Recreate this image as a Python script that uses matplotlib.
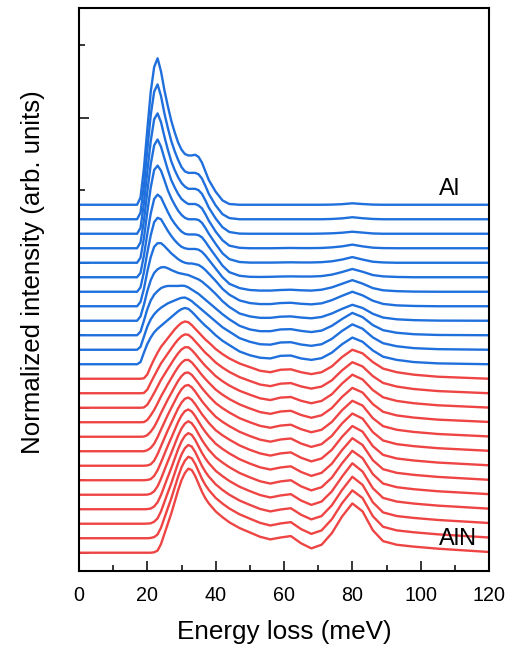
import numpy as np
import matplotlib
matplotlib.use("Agg")
import matplotlib.pyplot as plt
from matplotlib.ticker import MultipleLocator

plt.rcParams['font.family'] = ['Liberation Sans', 'DejaVu Sans']

# energy grid (meV) shared by every spectrum
energy = [0, 17, 18, 19, 20, 21, 22, 23, 24, 25, 26, 27, 28, 29, 30, 31, 32, 33, 34, 35, 36, 37, 38,
          40, 42, 44, 47, 50, 53, 56, 59, 62, 65, 68, 71, 74, 77, 80, 83, 86, 89, 93, 98, 105, 120]

# Al side spectra, top curve first
al_spectra = [
    [0, 0, 0.5, 2.5, 5.2, 7.8, 9.5, 10.1, 9.2, 7.9, 6.8, 5.8, 5.0, 4.3, 3.8, 3.5, 3.4, 3.4, 3.45, 3.3, 2.9, 2.3, 1.7,
     0.9, 0.3, 0.05, 0, 0, 0, 0, 0, 0, 0, 0, 0, 0.01, 0.04, 0.1, 0.05, 0.01, 0, 0, 0, 0, 0],
    [0, 0, 0.45, 2.3, 4.8, 7.2, 8.8, 9.3, 8.5, 7.3, 6.3, 5.4, 4.7, 4.1, 3.6, 3.3, 3.2, 3.2, 3.2, 3.1, 2.8, 2.3, 1.75,
     0.95, 0.35, 0.08, 0, 0, 0, 0, 0, 0, 0, 0, 0, 0.02, 0.06, 0.14, 0.07, 0.02, 0, 0, 0, 0, 0],
    [0, 0, 0.4, 2.1, 4.3, 6.4, 7.9, 8.3, 7.7, 6.7, 5.8, 5.0, 4.4, 3.9, 3.5, 3.25, 3.1, 3.1, 3.1, 3.0, 2.75, 2.3, 1.8,
     1.05, 0.45, 0.12, 0.01, 0, 0, 0, 0, 0, 0, 0, 0.01, 0.03, 0.07, 0.14, 0.08, 0.02, 0, 0, 0, 0, 0],
    [0, 0, 0.4, 1.9, 3.9, 5.8, 7.1, 7.5, 7.0, 6.2, 5.4, 4.7, 4.2, 3.75, 3.4, 3.2, 3.05, 3.05, 3.05, 2.95, 2.75, 2.35, 1.9,
     1.15, 0.55, 0.18, 0.03, 0, 0, 0, 0.01, 0.02, 0.01, 0.01, 0.02, 0.06, 0.13, 0.25, 0.13, 0.04, 0.01, 0, 0, 0, 0],
    [0, 0, 0.35, 1.7, 3.5, 5.2, 6.4, 6.7, 6.35, 5.7, 5.0, 4.45, 4.0, 3.6, 3.3, 3.1, 3.0, 3.0, 3.0, 2.95, 2.75, 2.4, 2.0,
     1.3, 0.65, 0.25, 0.05, 0.01, 0.01, 0.01, 0.02, 0.03, 0.02, 0.02, 0.04, 0.1, 0.22, 0.39, 0.22, 0.07, 0.02, 0, 0, 0, 0],
    [0, 0, 0.3, 1.5, 3.0, 4.4, 5.4, 5.7, 5.5, 5.0, 4.5, 4.05, 3.7, 3.4, 3.15, 3.0, 2.95, 2.95, 2.95, 2.9, 2.75, 2.45, 2.1,
     1.45, 0.8, 0.35, 0.1, 0.03, 0.02, 0.03, 0.05, 0.06, 0.05, 0.05, 0.08, 0.18, 0.36, 0.57, 0.38, 0.15, 0.06, 0.02, 0, 0, 0],
    [0, 0, 0.3, 1.35, 2.7, 3.9, 4.8, 5.1, 5.0, 4.6, 4.2, 3.85, 3.55, 3.3, 3.1, 3.0, 2.95, 2.95, 2.95, 2.9, 2.75, 2.5, 2.2,
     1.6, 1.0, 0.55, 0.25, 0.12, 0.08, 0.08, 0.12, 0.14, 0.1, 0.08, 0.14, 0.3, 0.55, 0.8, 0.56, 0.25, 0.1, 0.04, 0.01, 0, 0],
    [0, 0, 0.3, 1.2, 2.4, 3.4, 4.1, 4.35, 4.35, 4.15, 3.9, 3.65, 3.45, 3.25, 3.1, 3.0, 2.95, 2.95, 2.9, 2.85, 2.7, 2.5, 2.25,
     1.75, 1.2, 0.8, 0.4, 0.22, 0.15, 0.15, 0.22, 0.24, 0.17, 0.13, 0.2, 0.42, 0.72, 1.0, 0.75, 0.38, 0.16, 0.06, 0.02, 0, 0],
    [0, 0, 0.3, 1.1, 2.05, 2.8, 3.3, 3.55, 3.68, 3.7, 3.62, 3.5, 3.4, 3.3, 3.25, 3.2, 3.15, 3.05, 2.95, 2.85, 2.7, 2.5, 2.3,
     1.85, 1.35, 0.95, 0.5, 0.3, 0.2, 0.2, 0.28, 0.3, 0.22, 0.17, 0.26, 0.5, 0.82, 1.1, 0.88, 0.48, 0.22, 0.1, 0.04, 0.01, 0],
    [0, 0, 0.25, 1.0, 1.8, 2.4, 2.8, 3.05, 3.25, 3.35, 3.4, 3.4, 3.4, 3.4, 3.42, 3.4, 3.3, 3.15, 3.0, 2.85, 2.65, 2.45, 2.25,
     1.85, 1.45, 1.1, 0.65, 0.4, 0.28, 0.28, 0.4, 0.42, 0.3, 0.22, 0.32, 0.65, 1.12, 1.54, 1.25, 0.7, 0.35, 0.17, 0.07, 0.02, 0],
    [0, 0, 0.2, 0.9, 1.6, 2.1, 2.45, 2.7, 2.9, 3.05, 3.2, 3.3, 3.4, 3.5, 3.58, 3.6, 3.5, 3.35, 3.15, 2.95, 2.75, 2.55, 2.35,
     1.95, 1.55, 1.25, 0.8, 0.55, 0.38, 0.35, 0.5, 0.52, 0.36, 0.27, 0.38, 0.75, 1.3, 1.75, 1.45, 0.85, 0.45, 0.24, 0.11, 0.04, 0],
    [0, 0, 0.15, 0.8, 1.4, 1.85, 2.2, 2.45, 2.65, 2.85, 3.05, 3.25, 3.45, 3.65, 3.8, 3.88, 3.82, 3.62, 3.38, 3.12, 2.88, 2.65, 2.45,
     2.0, 1.62, 1.32, 0.88, 0.62, 0.45, 0.4, 0.58, 0.6, 0.4, 0.3, 0.42, 0.8, 1.38, 1.84, 1.55, 0.95, 0.52, 0.3, 0.15, 0.06, 0],
]

# AlN side spectra, top curve first
aln_spectra = [
    [0, 0, 0, 0.03, 0.3, 0.85, 1.35, 1.8, 2.2, 2.5, 2.8, 3.1, 3.4, 3.65, 3.85, 3.95, 3.9, 3.7, 3.45, 3.2, 2.95, 2.7, 2.5,
     2.05, 1.7, 1.4, 1.05, 0.8, 0.55, 0.45, 0.62, 0.65, 0.45, 0.32, 0.45, 0.85, 1.5, 2.0, 1.75, 1.15, 0.7, 0.45, 0.28, 0.14, 0],
    [0, 0, 0, 0.02, 0.25, 0.73, 1.18, 1.63, 2.06, 2.4, 2.74, 3.08, 3.41, 3.7, 3.93, 4.06, 4.03, 3.84, 3.58, 3.32, 3.05, 2.79, 2.58,
     2.12, 1.77, 1.47, 1.11, 0.85, 0.6, 0.49, 0.66, 0.7, 0.47, 0.32, 0.46, 0.89, 1.58, 2.14, 1.85, 1.18, 0.71, 0.46, 0.29, 0.15, 0],
    [0, 0, 0, 0.02, 0.21, 0.6, 1.02, 1.47, 1.92, 2.3, 2.68, 3.05, 3.42, 3.75, 4.02, 4.17, 4.17, 3.98, 3.72, 3.43, 3.15, 2.88, 2.65,
     2.18, 1.83, 1.53, 1.17, 0.9, 0.65, 0.53, 0.7, 0.74, 0.48, 0.31, 0.47, 0.93, 1.67, 2.28, 1.95, 1.22, 0.72, 0.47, 0.31, 0.17, 0.01],
    [0, 0, 0, 0.01, 0.16, 0.48, 0.85, 1.3, 1.78, 2.2, 2.63, 3.03, 3.43, 3.8, 4.1, 4.29, 4.3, 4.13, 3.85, 3.55, 3.25, 2.98, 2.73,
     2.25, 1.9, 1.6, 1.23, 0.95, 0.7, 0.58, 0.74, 0.79, 0.5, 0.31, 0.48, 0.98, 1.75, 2.37, 2.05, 1.25, 0.72, 0.47, 0.32, 0.18, 0.02],
    [0, 0, 0, 0.01, 0.11, 0.35, 0.68, 1.13, 1.63, 2.1, 2.57, 3.0, 3.43, 3.85, 4.18, 4.4, 4.43, 4.27, 3.98, 3.67, 3.35, 3.07, 2.8,
     2.32, 1.97, 1.67, 1.28, 1.0, 0.75, 0.62, 0.77, 0.83, 0.52, 0.31, 0.48, 1.02, 1.83, 2.48, 2.15, 1.28, 0.73, 0.48, 0.33, 0.19, 0.02],
    [0, 0, 0, 0, 0.07, 0.23, 0.52, 0.97, 1.49, 2.0, 2.51, 2.98, 3.44, 3.9, 4.27, 4.51, 4.57, 4.41, 4.12, 3.78, 3.45, 3.16, 2.88,
     2.38, 2.03, 1.73, 1.34, 1.05, 0.8, 0.66, 0.81, 0.88, 0.53, 0.3, 0.49, 1.06, 1.92, 2.6, 2.25, 1.32, 0.74, 0.49, 0.35, 0.21, 0.03],
    [0, 0, 0, 0, 0.02, 0.1, 0.35, 0.8, 1.35, 1.9, 2.45, 2.95, 3.45, 3.95, 4.35, 4.62, 4.7, 4.55, 4.25, 3.9, 3.55, 3.25, 2.95,
     2.45, 2.1, 1.8, 1.4, 1.1, 0.85, 0.7, 0.85, 0.92, 0.55, 0.3, 0.5, 1.1, 2.0, 2.74, 2.35, 1.35, 0.75, 0.5, 0.36, 0.22, 0.03],
    [0, 0, 0, 0, 0.02, 0.08, 0.3, 0.69, 1.23, 1.8, 2.38, 2.91, 3.46, 4.01, 4.46, 4.77, 4.88, 4.74, 4.43, 4.04, 3.66, 3.33, 3.03,
     2.52, 2.16, 1.85, 1.45, 1.15, 0.89, 0.74, 0.88, 0.96, 0.57, 0.3, 0.51, 1.14, 2.08, 2.9, 2.43, 1.38, 0.76, 0.51, 0.37, 0.23, 0.03],
    [0, 0, 0, 0, 0.01, 0.07, 0.24, 0.58, 1.1, 1.7, 2.3, 2.87, 3.47, 4.07, 4.57, 4.91, 5.07, 4.93, 4.6, 4.18, 3.77, 3.42, 3.1,
     2.58, 2.22, 1.9, 1.5, 1.2, 0.93, 0.77, 0.92, 1.0, 0.58, 0.3, 0.52, 1.18, 2.17, 3.03, 2.52, 1.42, 0.77, 0.52, 0.38, 0.24, 0.04],
    [0, 0, 0, 0, 0.01, 0.05, 0.19, 0.48, 0.98, 1.6, 2.23, 2.83, 3.48, 4.13, 4.68, 5.06, 5.25, 5.13, 4.78, 4.33, 3.88, 3.5, 3.18,
     2.65, 2.28, 1.95, 1.55, 1.25, 0.98, 0.81, 0.95, 1.04, 0.6, 0.3, 0.53, 1.23, 2.25, 3.17, 2.6, 1.45, 0.78, 0.53, 0.39, 0.25, 0.04],
    [0, 0, 0, 0, 0.01, 0.03, 0.14, 0.37, 0.85, 1.5, 2.15, 2.78, 3.48, 4.18, 4.78, 5.21, 5.43, 5.32, 4.95, 4.47, 3.98, 3.58, 3.25,
     2.72, 2.33, 2.0, 1.6, 1.3, 1.02, 0.85, 0.98, 1.07, 0.62, 0.3, 0.53, 1.27, 2.33, 3.24, 2.68, 1.48, 0.78, 0.53, 0.4, 0.26, 0.05],
    [0, 0, 0, 0, 0, 0.02, 0.08, 0.26, 0.73, 1.4, 2.08, 2.74, 3.49, 4.24, 4.89, 5.35, 5.62, 5.51, 5.13, 4.61, 4.09, 3.67, 3.33,
     2.78, 2.39, 2.05, 1.65, 1.35, 1.06, 0.88, 1.02, 1.11, 0.63, 0.3, 0.54, 1.31, 2.42, 3.3, 2.77, 1.52, 0.79, 0.54, 0.41, 0.27, 0.05],
    [0, 0, 0, 0, 0, 0, 0.03, 0.15, 0.6, 1.3, 2.0, 2.7, 3.5, 4.3, 5.0, 5.5, 5.8, 5.7, 5.3, 4.75, 4.2, 3.75, 3.4,
     2.85, 2.45, 2.1, 1.7, 1.4, 1.1, 0.92, 1.05, 1.15, 0.65, 0.3, 0.55, 1.35, 2.5, 3.4, 2.85, 1.55, 0.8, 0.55, 0.42, 0.28, 0.05],
]

x_ticks = [0, 20, 40, 60, 80, 100, 120]
blue = '#1f6fdc'
red = '#ee4444'

fig = plt.figure(figsize=(5.12, 6.57), dpi=100)
ax = fig.add_axes([79 / 512, 86 / 657, 410 / 512, 563 / 657])

# stack: bottom AlN curve at 0, each next curve one unit higher
n_red = len(aln_spectra)
n_total = n_red + len(al_spectra)
for i, row in enumerate(aln_spectra):
    offset = n_red - 1 - i
    ax.plot(energy, np.array(row) + offset, color=red, lw=1.7, solid_joinstyle='round')
for i, row in enumerate(al_spectra):
    offset = n_total - 1 - i
    ax.plot(energy, np.array(row) + offset, color=blue, lw=1.7, solid_joinstyle='round')

ax.set_xlim(0, 120)
ax.set_ylim(-1.26, 37.57)
ax.set_xticks(x_ticks)
ax.xaxis.set_minor_locator(MultipleLocator(10))
ax.yaxis.set_major_locator(MultipleLocator(10))
ax.yaxis.set_minor_locator(MultipleLocator(5))
ax.set_yticklabels([])
ax.tick_params(which='both', direction='in', top=False, right=False, width=1.1)
ax.tick_params(which='major', length=7.5)
ax.tick_params(which='minor', length=4.2)
ax.tick_params(axis='x', labelsize=14.2, pad=10.5)
for sp in ax.spines.values():
    sp.set_linewidth(1.5)

ax.set_xlabel('Energy loss (meV)', fontsize=18.8)
ax.xaxis.set_label_coords(0.5, -0.087)
ax.set_ylabel('Normalized intensity (arb. units)', fontsize=18.6)
ax.yaxis.set_label_coords(-0.083, 0.53)

ax.text(108.5, 24.7, 'Al', fontsize=17, ha='center', va='baseline')
ax.text(110.8, 0.55, 'AlN', fontsize=17, ha='center', va='baseline')

fig.savefig('out.png', dpi=100)
